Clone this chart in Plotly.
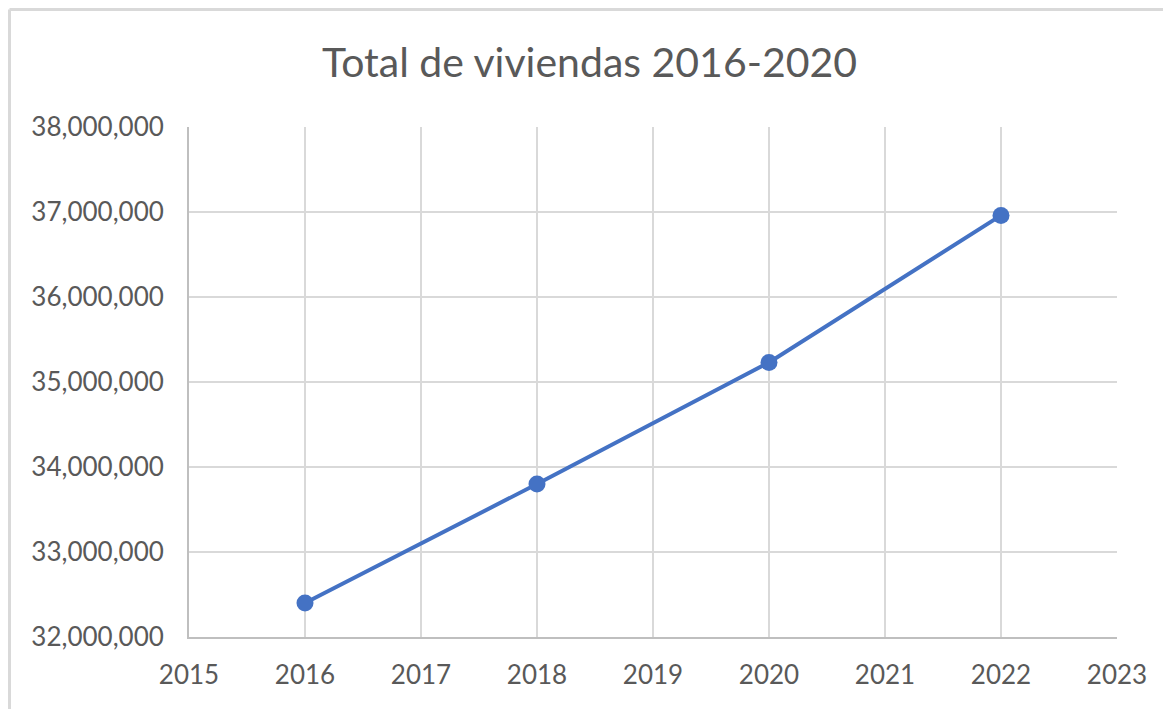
import plotly.graph_objects as go

years = [2016, 2018, 2020, 2022]
viviendas = [32400000, 33800000, 35230000, 36960000]
x_ticks = list(range(2015, 2024))
title_text = "Total de viviendas 2016-2020"

FONT = "Lato, 'Open Sans', sans-serif"
GRAY_TXT = "#595959"

W, H = 1163, 701
ML, MR, MT, MB = 181, 54, 119, 72
PW, PH = W - ML - MR, H - MT - MB

fig = go.Figure()
fig.add_trace(go.Scatter(
    x=years, y=viviendas, mode="lines+markers",
    line=dict(color="#4472C4", width=4),
    marker=dict(color="#4472C4", size=17),
    hoverinfo="x+y", showlegend=False,
))

fig.update_layout(
    width=W, height=H, autosize=False,
    paper_bgcolor="white", plot_bgcolor="white",
    margin=dict(l=ML, r=MR, t=MT, b=MB),
    title=dict(text=title_text, x=0.5, xanchor="center", y=1 - 55 / H, yanchor="middle",
               font=dict(family=FONT, size=41, color=GRAY_TXT)),
    font=dict(family=FONT, color=GRAY_TXT),
    xaxis=dict(range=[2015, 2023], tickmode="array", tickvals=x_ticks,
               ticktext=[str(v) for v in x_ticks],
               showgrid=True, gridcolor="#d9d9d9", gridwidth=2,
               showline=True, linecolor="#bfbfbf", linewidth=2,
               ticks="outside", ticklen=14, tickcolor="rgba(0,0,0,0)",
               tickfont=dict(family=FONT, size=26, color=GRAY_TXT),
               zeroline=False, fixedrange=True),
    yaxis=dict(range=[32000000, 38000000], dtick=1000000, tickformat=",",
               showgrid=True, gridcolor="#d9d9d9", gridwidth=2,
               showline=True, linecolor="#bfbfbf", linewidth=2,
               ticks="outside", ticklen=18, tickcolor="rgba(0,0,0,0)",
               tickfont=dict(family=FONT, size=26, color=GRAY_TXT),
               zeroline=False, fixedrange=True),
    shapes=[
        dict(type="line", xref="paper", yref="paper",
             x0=-(ML - 1.5) / PW, x1=(PW + MR + 10) / PW,
             y0=1 + (MT - 1.5) / PH, y1=1 + (MT - 1.5) / PH,
             line=dict(color="#d9d9d9", width=3), layer="below"),
        dict(type="line", xref="paper", yref="paper",
             x0=-(ML - 1.5) / PW, x1=-(ML - 1.5) / PW,
             y0=-(MB + 10) / PH, y1=1 + (MT - 1.5) / PH,
             line=dict(color="#d9d9d9", width=3), layer="below"),
    ],
)

fig.write_html("out.html")
